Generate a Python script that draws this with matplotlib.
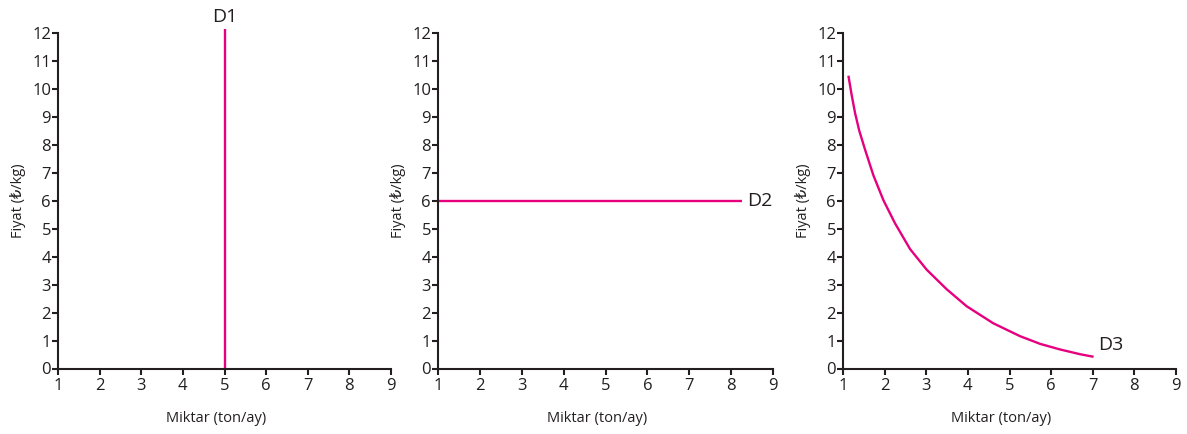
import matplotlib
matplotlib.use("Agg")
import matplotlib.pyplot as plt

plt.rcParams['font.family'] = ['Open Sans', 'DejaVu Sans']

# Data
x_ticks = [1, 2, 3, 4, 5, 6, 7, 8, 9]
y_ticks = list(range(0, 13))

d1_x = [5, 5]
d1_y = [0, 12.17]

d2_x = [1, 8.25]
d2_y = [6, 6]

d3_x = [1.13, 1.21, 1.29, 1.39, 1.53, 1.73, 1.97, 2.25, 2.61, 3.01,
        3.49, 3.97, 4.61, 5.25, 5.74, 6.22, 6.70, 7.02]
d3_y = [10.49, 9.78, 9.15, 8.52, 7.84, 6.92, 6.03, 5.20, 4.28, 3.54,
        2.84, 2.23, 1.62, 1.16, 0.88, 0.68, 0.51, 0.42]

labels = ["D1", "D2", "D3"]
x_label = "Miktar (ton/ay)"
y_label = "Fiyat (₺/kg)"

LINE = "#E6007E"
AX = "#231F20"

W, H = 1187, 434
fig = plt.figure(figsize=(W / 100, H / 100), dpi=100)

panels_px = [(58, 391), (438, 773), (843, 1176)]
bottom = (H - 368.5) / H
height = 335 / H

axes = []
for (l, r) in panels_px:
    wpx = r - l
    ax = fig.add_axes([l / W, bottom, wpx / W, height])
    ax.set_xlim(1, 9)
    ax.set_ylim(0, 12)
    ax.set_xticks(x_ticks)
    ax.set_yticks(y_ticks)
    for s in ['top', 'right']:
        ax.spines[s].set_visible(False)
    for s in ['left', 'bottom']:
        ax.spines[s].set_linewidth(1.5)
        ax.spines[s].set_color(AX)
    ax.tick_params(axis='both', direction='out', length=4, width=1.5, color=AX,
                   labelsize=12, labelcolor=AX)
    ax.tick_params(axis='x', pad=3)
    ax.tick_params(axis='y', pad=1)
    ax.set_xlabel(x_label, fontsize=10.5, color=AX)
    ax.set_ylabel(y_label, fontsize=10.5, color=AX)
    ax.xaxis.set_label_coords(0.5 - 8 / wpx, -49.5 / 335)
    ax.xaxis.label.set_verticalalignment('center')
    ax.yaxis.set_label_coords(-40 / wpx, 0.5)
    ax.yaxis.label.set_verticalalignment('center')
    axes.append(ax)

ax1, ax2, ax3 = axes
ax1.plot(d1_x, d1_y, color=LINE, lw=1.7, clip_on=False, solid_capstyle='butt')
ax1.text(5, 12.6, labels[0], ha='center', va='center', fontsize=14, color=AX, clip_on=False)

ax2.plot(d2_x, d2_y, color=LINE, lw=1.7, clip_on=False, solid_capstyle='butt')
ax2.text(8.38, 6, labels[1], ha='left', va='center', fontsize=14, color=AX, clip_on=False)

ax3.plot(d3_x, d3_y, color=LINE, lw=1.7, clip_on=False, solid_capstyle='butt',
         solid_joinstyle='round')
ax3.text(7.13, 0.85, labels[2], ha='left', va='center', fontsize=14, color=AX, clip_on=False)

fig.savefig("out.png", dpi=100, facecolor='white')
